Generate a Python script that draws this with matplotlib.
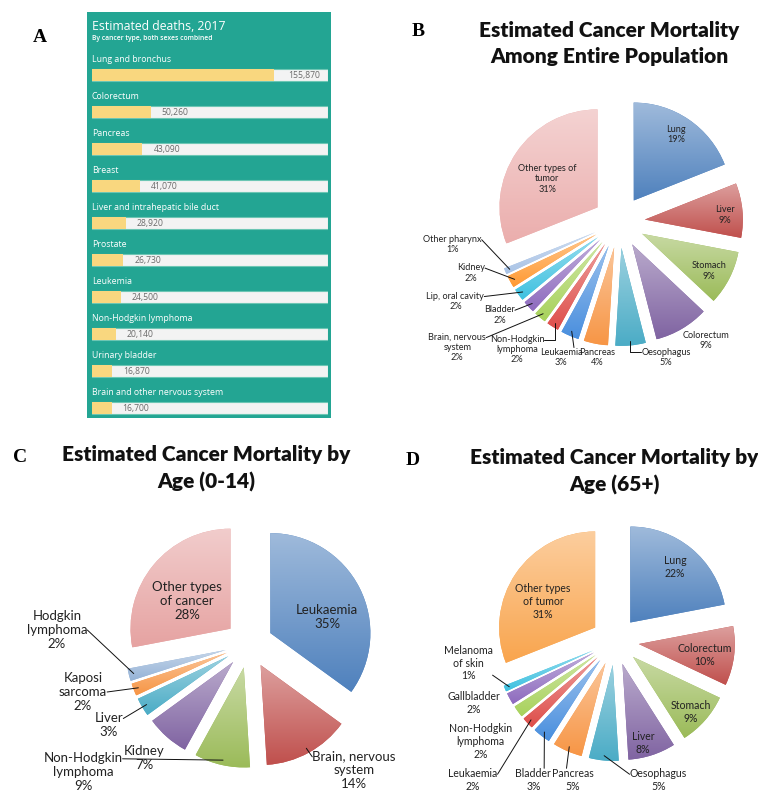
import numpy as np
import matplotlib.pyplot as plt
from matplotlib.colors import to_rgb

W, H = 758, 794

# A: estimated deaths in 2017, both sexes
sites_2017 = ["Lung and bronchus", "Colorectum", "Pancreas", "Breast",
              "Liver and intrahepatic bile duct", "Prostate", "Leukemia",
              "Non-Hodgkin lymphoma", "Urinary bladder",
              "Brain and other nervous system"]
deaths_2017 = [155870, 50260, 43090, 41070, 28920, 26730, 24500, 20140,
               16870, 16700]

# B: whole population, percent of cancer deaths
all_names = ["Lung", "Liver", "Stomach", "Colorectum", "Oesophagus", "Pancreas",
             "Leukaemia", "Non-Hodgkin\nlymphoma", "Brain, nervous\nsystem",
             "Bladder", "Lip, oral cavity", "Kidney", "Other pharynx",
             "Other types of\ntumor"]
all_pct = [19, 9, 9, 9, 5, 4, 3, 2, 2, 2, 2, 2, 1, 31]
all_colors = ["#4F81BD", "#C0504D", "#9BBB59", "#8064A2", "#4BACC6", "#F79646",
              "#4A8FDE", "#DE4E4A", "#A8D25C", "#8E6BBE", "#3FC1E0", "#FF9A33",
              "#A9C3E6", "#EBAEAD"]

# C: age 0-14
child_names = ["Leukaemia", "Brain, nervous\nsystem", "Non-Hodgkin\nlymphoma",
               "Kidney", "Liver", "Kaposi\nsarcoma", "Hodgkin\nlymphoma",
               "Other types\nof cancer"]
child_pct = [35, 14, 9, 7, 3, 2, 2, 28]
child_colors = ["#4F81BD", "#C0504D", "#9BBB59", "#8064A2", "#4BACC6", "#F79646",
                "#95B3D7", "#E6A3A2"]

# D: age 65+
old_names = ["Lung", "Colorectum", "Stomach", "Liver", "Oesophagus", "Pancreas",
             "Bladder", "Leukaemia", "Non-Hodgkin\nlymphoma", "Gallbladder",
             "Melanoma\nof skin", "Other types\nof tumor"]
old_pct = [22, 10, 9, 8, 5, 5, 3, 2, 2, 2, 1, 31]
old_colors = ["#4F81BD", "#C0504D", "#9BBB59", "#8064A2", "#4BACC6", "#F79646",
              "#4A8FDE", "#DE4E4A", "#A8D25C", "#8E6BBE", "#3FC1E0", "#F9A54E"]

# label spots in pie-radius units: (x, y, leader) ; leader = (relpos, style)
all_spots = [(0.58, 0.89, None), (1.08, 0.07, None), (0.92, -0.50, None),
             (0.89, -1.21, None), (0.48, -1.38, ((0, 0.75), "elbow")),
             (-0.22, -1.38, None), (-0.59, -1.38, ((0.8, 1), "line")),
             (-1.04, -1.30, ((1, 0.83), "elbow")),
             (-1.65, -1.28, ((1, 0.83), "line")),
             (-1.22, -0.95, ((1, 0.75), "line")),
             (-1.67, -0.81, ((1, 0.75), "line")),
             (-1.51, -0.52, ((1, 0.75), "line")),
             (-1.70, -0.23, ((1, 0.75), "line")),
             (-0.73, 0.44, None)]
child_spots = [(0.78, 0.27, None), (1.05, -1.26, ((0, 0.83), "line")),
               (-1.66, -1.28, ((1, 0.83), "line")), (-1.05, -1.14, None),
               (-1.40, -0.81, ((1, 0.75), "line")),
               (-1.66, -0.48, ((1, 0.5), "line")),
               (-1.92, 0.14, ((1, 0.5), "line")), (-0.62, 0.43, None)]
old_spots = [(0.625, 0.77, None), (0.93, -0.15, None), (0.79, -0.74, None),
             (0.29, -1.06, None), (0.45, -1.45, ((0, 0.75), "line")),
             (-0.44, -1.45, ((0.35, 1), "line")),
             (-0.85, -1.45, ((0.8, 1), "line")),
             (-1.48, -1.45, ((1, 0.75), "line")), (-1.40, -1.05, None),
             (-1.47, -0.65, None), (-1.53, -0.23, ((1, 0.17), "line")),
             (-0.75, 0.41, None)]

fig = plt.figure(figsize=(W / 100, H / 100), dpi=100)


def px_axes(x0, y0, x1, y1):
    return fig.add_axes([x0 / W, 1 - y1 / H, (x1 - x0) / W, (y1 - y0) / H])


def shade(ax, wedge, color):
    # vertical light-to-base gradient clipped to the wedge
    base = np.array(to_rgb(color))
    top = base + (1 - base) * 0.45
    g = np.linspace(0, 1, 64)[:, None, None]
    img = top * (1 - g) + base * g
    v = wedge.get_path().vertices
    (x0, y0), (x1, y1) = v.min(0), v.max(0)
    im = ax.imshow(img, extent=(x0, x1, y0, y1), origin="upper", aspect="auto",
                   interpolation="bilinear", zorder=wedge.get_zorder() + 0.1)
    im.set_clip_path(wedge)


def draw_pie(box, centre, radius, pct, names, colors, explode, spots, fs):
    x0, y0, x1, y1 = box
    cx, cy = centre
    ax = px_axes(x0, y0, x1, y1)
    wedges, _ = ax.pie(pct, colors=colors, startangle=90, counterclock=False,
                       explode=[explode] * len(pct),
                       wedgeprops=dict(linewidth=0))
    for w, c in zip(wedges, colors):
        shade(ax, w, c)
    for w, name, v, (lx, ly, lead) in zip(wedges, names, pct, spots):
        mid = np.deg2rad((w.theta1 + w.theta2) / 2)
        tip = np.array([np.cos(mid), np.sin(mid)]) * (explode + 0.95)
        label = f"{name}\n{v}%"
        kw = dict(ha="center", va="center", fontsize=fs, family="Lato",
                  color="#222222", zorder=5)
        if lead is None:
            ax.text(lx, ly, label, **kw)
        else:
            relpos, style = lead
            cs = "angle,angleA=0,angleB=90,rad=0" if style == "elbow" else "arc3"
            ax.annotate(label, xy=tip, xytext=(lx, ly),
                        arrowprops=dict(arrowstyle="-", color="#111111", lw=0.7,
                                        relpos=relpos, connectionstyle=cs,
                                        shrinkA=0, shrinkB=0, patchA=None),
                        **kw)
    ax.set_xlim((x0 - cx) / radius, (x1 - cx) / radius)
    ax.set_ylim((cy - y1) / radius, (cy - y0) / radius)
    ax.set_aspect("auto")
    ax.axis("off")
    return ax


# ---- A ----
bg = px_axes(87, 12, 331, 418)
bg.set_facecolor("#23A593")
bg.set_xticks([])
bg.set_yticks([])
for s in bg.spines.values():
    s.set_visible(False)

track = 202000
axa = px_axes(92, 12, 328, 418)
axa.patch.set_alpha(0)
idx = np.arange(len(sites_2017))
axa.barh(idx, [track] * len(idx), height=0.32, color="#F3F3F3",
         edgecolor="#6CC6B4", linewidth=0.8)
axa.barh(idx, deaths_2017, height=0.32, color="#F9D77F", edgecolor="none")
for i, (site, n) in enumerate(zip(sites_2017, deaths_2017)):
    axa.text(0, i - 0.43, site, color="white", fontsize=6.3, family="Open Sans",
             weight="medium", va="center", ha="left")
    if n / track > 0.6:
        axa.annotate(f"{n:,}", xy=(track, i), xytext=(-6, 0),
                     textcoords="offset points", ha="right", va="center",
                     fontsize=6.2, color="#6A6A6A", family="Open Sans")
    else:
        axa.annotate(f"{n:,}", xy=(n, i), xytext=(8, 0),
                     textcoords="offset points", ha="left", va="center",
                     fontsize=6.2, color="#6A6A6A", family="Open Sans")
axa.text(0, -1.30, "Estimated deaths, 2017", color="white", fontsize=8.8,
         family="Open Sans", va="center")
axa.text(0, -1.0, "By cancer type, both sexes combined", color="white",
         fontsize=4.9, family="Open Sans", weight="semibold", va="center")
axa.set_xlim(0, track)
axa.set_ylim(9.27, -1.703)
axa.axis("off")

# ---- B, C, D ----
draw_pie((400, 70, 758, 400), (619, 222), 98, all_pct, all_names, all_colors,
         0.265, all_spots, 6.6)
draw_pie((0, 500, 392, 794), (249, 644), 100, child_pct, child_names,
         child_colors, 0.24, child_spots, 9.5)
draw_pie((400, 500, 758, 794), (615, 641), 96, old_pct, old_names, old_colors,
         0.25, old_spots, 7.6)

titles = [(("Estimated Cancer Mortality", "Among Entire Population"), 609, 30),
          (("Estimated Cancer Mortality by", "Age (0-14)"), 206, 455),
          (("Estimated Cancer Mortality by", "Age (65+)"), 614, 458)]
for lines, x, y in titles:
    for k, line in enumerate(lines):
        fig.text(x / W, 1 - (y + 27 * k) / H, line, ha="center", va="center",
                 fontsize=15, family="Lato", weight="heavy", color="#111111")

for letter, x, y in [("A", 40, 37), ("B", 418, 32), ("C", 20, 457), ("D", 413, 460)]:
    fig.text(x / W, 1 - y / H, letter, ha="center", va="center", fontsize=14,
             family="Liberation Serif", weight="bold")

fig.savefig("out.png", dpi=100)
